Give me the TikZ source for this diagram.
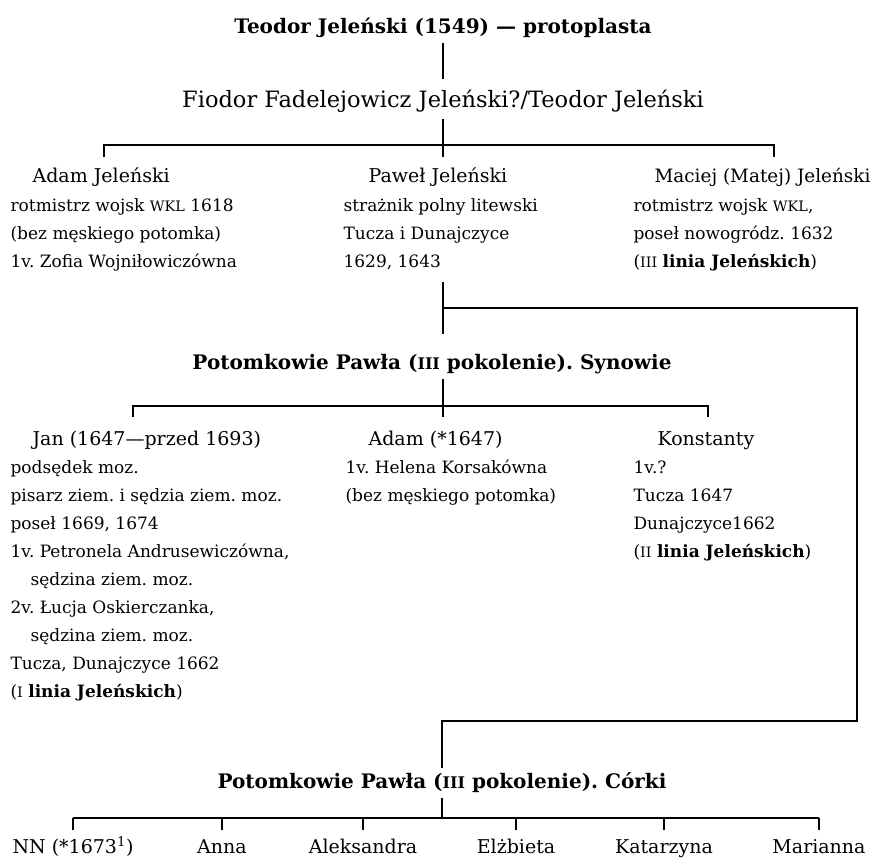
\documentclass[tikz,border=0pt]{standalone}
\usepackage{fontspec}
\setmainfont{DejaVu Serif}
\usepackage{relsize}
\newcommand{\smc}[1]{{\relscale{0.8}#1}}
\frenchspacing

\tikzset{
  tytul/.style={font=\bfseries\fontsize{20}{24}\selectfont, anchor=base,
    text height=15pt, text depth=5pt, inner xsep=0pt, inner ysep=4pt},
  osoba/.style={font=\fontsize{19}{24}\selectfont, anchor=base west, inner sep=0pt},
  opis/.style={font=\fontsize{17}{28}\selectfont, anchor=base west, inner sep=0pt},
  corka/.style={font=\fontsize{19}{24}\selectfont, anchor=base,
    text height=15pt, text depth=5pt, inner xsep=0pt, inner ysep=7pt}
}

\begin{document}
\begin{tikzpicture}[x=1pt, y=-1pt, line width=1.2pt]
  \useasboundingbox (0,0) rectangle (878,857);

  % protoplasta
  \node[tytul] (teodor) at (443,33) {Teodor Jeleński (1549) — protoplasta};
  \node[tytul, font=\fontsize{22.5}{26}\selectfont, text height=21pt, inner ysep=6pt]
    (fiodor) at (443,107) {Fiodor Fadelejowicz Jeleński?/Teodor Jeleński};
  \draw (teodor.south) -- (fiodor.north);

  % II pokolenie
  \coordinate (bar1) at (443,145);
  \foreach \n/\x in {adam/104, pawel/443, maciej/774}
    \coordinate (\n-t) at (\x,157);
  \draw (fiodor.south) -- (pawel-t);
  \draw (adam-t) |- (bar1) -| (maciej-t);

  \node[osoba] (adam) at (32,182) {Adam Jeleński};
  \foreach \t [count=\i] in {rotmistrz wojsk \smc{WKL} 1618, (bez męskiego potomka),
      1v. Zofia Wojniłowiczówna}
    \node[opis] (adam-\i) at (10,183+28*\i) {\t};

  \node[osoba] (pawel) at (368,182) {Paweł Jeleński};
  \foreach \t [count=\i] in {strażnik polny litewski, Tucza i Dunajczyce, {1629, 1643}}
    \node[opis] (pawel-\i) at (343,183+28*\i) {\t};

  \node[osoba, font=\fontsize{18.4}{24}\selectfont] (maciej) at (654,182) {Maciej (Matej) Jeleński};
  \foreach \t [count=\i] in {{rotmistrz wojsk \smc{WKL},}, poseł nowogródz. 1632,
      (\smc{III} \textbf{linia Jeleńskich})}
    \node[opis] (maciej-\i) at (633,183+28*\i) {\t};

  % od Pawla w dol
  \coordinate (pawel-od) at (443,282);
  \coordinate (pawel-do) at (443,334);
  \coordinate (fork) at (443,308);
  \coordinate (zakret) at (857,721);
  \coordinate (corki-od) at (442,745);
  \draw (pawel-od) -- (pawel-do);
  \draw (fork) -| (zakret) -| (corki-od);

  % III pokolenie - synowie
  \node[tytul] (synowie) at (432,369) {Potomkowie Pawła (\smc{III} pokolenie). Synowie};
  \coordinate (bar2) at (443,406);
  \foreach \n/\x in {jan/133, adamm/443, konst/708}
    \coordinate (\n-t) at (\x,417);
  \draw (adamm-t |- synowie.south) -- (adamm-t);
  \draw (jan-t) |- (bar2) -| (konst-t);

  \node[osoba] (jan) at (32,445) {Jan (1647—przed 1693)};
  \foreach \t [count=\i] in {podsędek moz., pisarz ziem. i sędzia ziem. moz.,
      {poseł 1669, 1674}, {1v. Petronela Andrusewiczówna,},
      \hspace*{20pt}sędzina ziem. moz., {2v. Łucja Oskierczanka,},
      \hspace*{20pt}sędzina ziem. moz., {Tucza, Dunajczyce 1662},
      (\smc{I} \textbf{linia Jeleńskich})}
    \node[opis] (jan-\i) at (10,445+28*\i) {\t};

  \node[osoba] (adamm) at (368,445) {Adam (*1647)};
  \foreach \t [count=\i] in {1v. Helena Korsakówna, (bez męskiego potomka)}
    \node[opis] (adamm-\i) at (345,445+28*\i) {\t};

  \node[osoba] (konst) at (657,445) {Konstanty};
  \foreach \t [count=\i] in {1v.?, Tucza 1647, Dunajczyce1662,
      (\smc{II} \textbf{linia Jeleńskich})}
    \node[opis] (konst-\i) at (633,445+28*\i) {\t};

  % III pokolenie - corki
  \node[tytul] (corki) at (442,788) {Potomkowie Pawła (\smc{III} pokolenie). Córki};
  \coordinate (bar3) at (442,818);
  \draw (corki-od) -- (corki.north);
  \draw (corki.south) -- (bar3);
  \foreach \n/\x/\t in {nn/73/{NN (*1673\textsuperscript{1})}, anna/222/Anna,
      aleks/363/Aleksandra, elz/516/Elżbieta, kasia/664/Katarzyna, maria/819/Marianna}{
    \node[corka] (\n) at (\x,853) {\t};
    \draw (\n.north) -- (\n.north |- bar3);
  }
  \draw (nn.north |- bar3) -- (maria.north |- bar3);
\end{tikzpicture}
\end{document}
